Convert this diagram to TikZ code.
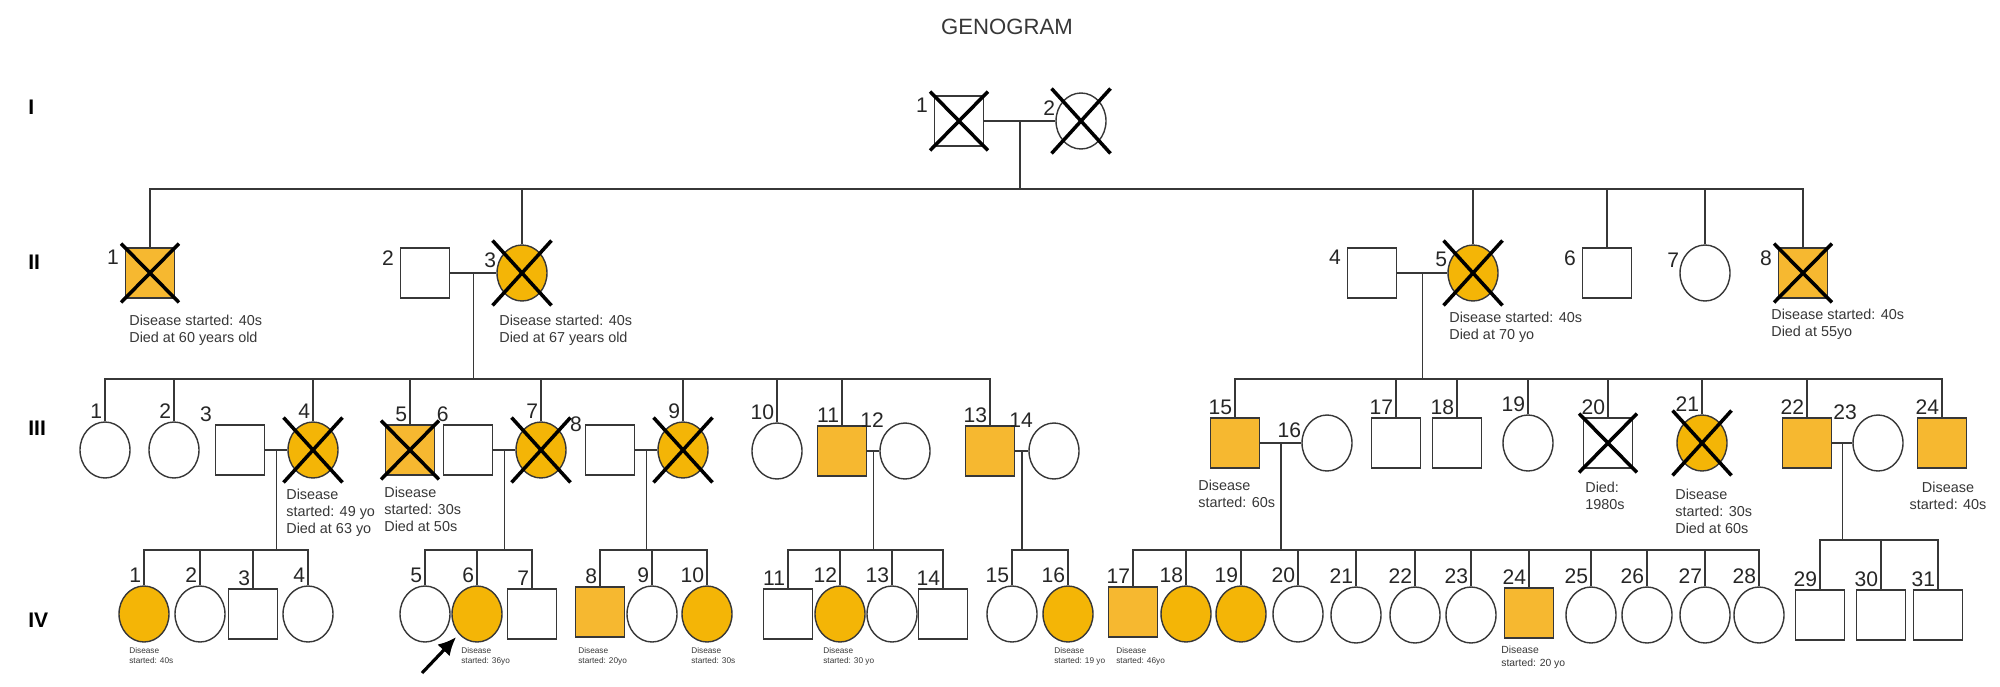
\documentclass[tikz,border=0pt]{standalone}
\usepackage{fontspec}
\setmainfont{Liberation Sans}
\usetikzlibrary{shapes.geometric,shapes.misc,fit,arrows.meta}

\definecolor{sickF}{RGB}{244,181,6}
\definecolor{sickM}{RGB}{246,184,48}
\definecolor{ink}{RGB}{55,55,55}

\newcommand{\sibline}[3]{\draw[link] (#2.north) -- (#2.north |- #1) -- (#3.north |- #1) -- (#3.north);}

\tikzset{
  link/.style={draw=ink, line width=0.85pt},
  male/.style={rectangle, draw=ink, line width=0.8pt, fill=white, minimum width=9.8mm, minimum height=10mm, inner sep=0pt},
  female/.style={ellipse, draw=ink, line width=0.8pt, fill=white, minimum width=10mm, minimum height=11.2mm, inner sep=0pt},
  msick/.style={male, fill=sickM},
  fsick/.style={female, fill=sickF},
  xmark/.style={cross out, draw=black, line width=2pt, inner sep=0.4mm},
  num/.style={font=\fontsize{12}{14}\selectfont, text=black!85, inner sep=1.5pt},
  lab/.style={label={[num, anchor=south east]north:#1}},
  labc/.style={label={[num, anchor=south east]north west:#1}},
  labw/.style={label={[num, anchor=north east, xshift=-0.6mm]north west:#1}},
  labe/.style={label={[num, anchor=east]150:#1}},
  note/.style={font=\fontsize{8.2}{9.5}\selectfont, text=ink, align=left, inner sep=0pt, anchor=north west},
  tinynote/.style={font=\fontsize{4.7}{5.7}\selectfont, text=ink, align=left, inner sep=0pt, anchor=north west},
  genlbl/.style={font=\bfseries\fontsize{12}{14}\selectfont, anchor=west, inner sep=0pt}
}

\begin{document}
\begin{tikzpicture}[x=0.2mm, y=-0.2mm]
  \useasboundingbox (0,0) rectangle (2000,686);

  % Title and generation labels
  \node[font=\fontsize{12.6}{15}\selectfont, text=ink] (title) at (1007,27) {GENOGRAM};
  \node[genlbl] (g1) at (28,107) {I};
  \node[genlbl] (g2) at (28,262) {II};
  \node[genlbl] (g3) at (28,428) {III};
  \node[genlbl] (g4) at (28,620) {IV};

  % Sibship levels
  \coordinate (s2) at (0,189);
  \coordinate (s3) at (0,379);
  \coordinate (s4) at (0,550);
  \coordinate (s4b) at (0,540);

  % Generation I
  \node[male, labw=1] (i1) at (959,121) {};
  \node[female, labe=2] (i2) at (1081,121) {};
  \draw[link] (i1) -- coordinate (ci) (i2);

  % Generation II
  \node[msick, labw=1] (ii1) at (150,273) {};
  \node[male, labw=2] (ii2) at (425,273) {};
  \node[fsick, labe=3] (ii3) at (522,273) {};
  \node[male, labw=4] (ii4) at (1372,273) {};
  \node[fsick, labe=5] (ii5) at (1473,273) {};
  \node[male, labw=6] (ii6) at (1607,273) {};
  \node[female, labe=7] (ii7) at (1705,273) {};
  \node[msick, labw=8] (ii8) at (1803,273) {};
  \draw[link] (ci) -- (ci |- s2);
  \sibline{s2}{ii1}{ii8}
  \foreach \c in {ii3,ii5,ii6,ii7} \draw[link] (\c.north) -- (\c.north |- s2);
  \draw[link] (ii2) -- coordinate (cii) (ii3);
  \draw[link] (ii4) -- coordinate (ciir) (ii5);

  \node[note] (t-ii1) at (129,315) {Disease started: 40s\\Died at 60 years old};
  \node[note] (t-ii3) at (499,315) {Disease started: 40s\\Died at 67 years old};
  \node[note] (t-ii5) at (1449,312) {Disease started: 40s\\Died at 70 yo};
  \node[note] (t-ii8) at (1771,309) {Disease started: 40s\\Died at 55yo};

  % Generation III, left family
  \node[female, lab=1] (iii1) at (105,450) {};
  \node[female, lab=2] (iii2) at (174,450) {};
  \node[male, labc=3] (iii3) at (240,450) {};
  \node[fsick, lab=4] (iii4) at (313,450) {};
  \node[msick, lab=5] (iii5) at (410,450) {};
  \node[male, label={[num, anchor=south]north west:6}] (iii6) at (468,450) {};
  \node[fsick, lab=7] (iii7) at (541,450) {};
  \node[male, label={[num, anchor=east]north west:8}] (iii8) at (610,450) {};
  \node[fsick, lab=9] (iii9) at (683,450) {};
  \node[female, lab=10] (iii10) at (777,451) {};
  \node[msick, lab=11] (iii11) at (842,451) {};
  \node[female, labc=12] (iii12) at (905,451) {};
  \node[msick, lab=13] (iii13) at (990,451) {};
  \node[female, labc=14] (iii14) at (1054,451) {};
  \draw[link] (cii) -- (cii |- s3);
  \sibline{s3}{iii1}{iii13}
  \foreach \c in {iii2,iii4,iii5,iii7,iii9,iii10,iii11} \draw[link] (\c.north) -- (\c.north |- s3);

  % Generation III, right family
  \node[msick, lab=15] (iii15) at (1235,443) {};
  \node[female, labe=16] (iii16) at (1327,443) {};
  \node[male, lab=17] (iii17) at (1396,443) {};
  \node[male, lab=18] (iii18) at (1457,443) {};
  \node[female, lab=19] (iii19) at (1528,443) {};
  \node[male, lab=20] (iii20) at (1608,443) {};
  \node[fsick, lab=21] (iii21) at (1702,443) {};
  \node[msick, lab=22] (iii22) at (1807,443) {};
  \node[female, labc=23] (iii23) at (1878,443) {};
  \node[msick, lab=24] (iii24) at (1942,443) {};
  \draw[link] (ciir) -- (ciir |- s3);
  \sibline{s3}{iii15}{iii24}
  \foreach \c in {iii17,iii18,iii19,iii20,iii21,iii22} \draw[link] (\c.north) -- (\c.north |- s3);

  \node[note] (t-iii4) at (286,489) {Disease\\started: 49 yo\\Died at 63 yo};
  \node[note] (t-iii5) at (384,487) {Disease\\started: 30s\\Died at 50s};
  \node[note] (t-iii15) at (1198,480) {Disease\\started: 60s};
  \node[note] (t-iii20) at (1585,482) {Died:\\1980s};
  \node[note] (t-iii21) at (1675,489) {Disease\\started: 30s\\Died at 60s};
  \node[note, align=center, anchor=north] (t-iii24) at (1948,482) {Disease\\started: 40s};

  % Couples of generation III
  \draw[link] (iii3) -- coordinate (c34) (iii4);
  \draw[link] (iii6) -- coordinate (c67) (iii7);
  \draw[link] (iii8) -- coordinate (c89) (iii9);
  \draw[link] (iii11) -- coordinate (c1112) (iii12);
  \draw[link] (iii13) -- coordinate (c1314) (iii14);
  \draw[link] (iii15) -- coordinate (c1516) (iii16);
  \draw[link] (iii22) -- coordinate (c2223) (iii23);

  % Generation IV
  \node[fsick, lab=1] (iv1) at (144,614) {};
  \node[female, lab=2] (iv2) at (200,614) {};
  \node[male, lab=3] (iv3) at (253,614) {};
  \node[female, lab=4] (iv4) at (308,614) {};
  \node[female, lab=5] (iv5) at (425,614) {};
  \node[fsick, lab=6] (iv6) at (477,614) {};
  \node[male, lab=7] (iv7) at (532,614) {};
  \node[msick, lab=8] (iv8) at (600,612) {};
  \node[female, lab=9] (iv9) at (652,614) {};
  \node[fsick, lab=10] (iv10) at (707,614) {};
  \node[male, lab=11] (iv11) at (788,614) {};
  \node[fsick, lab=12] (iv12) at (840,614) {};
  \node[female, lab=13] (iv13) at (892,614) {};
  \node[male, lab=14] (iv14) at (943,614) {};
  \node[female, lab=15] (iv15) at (1012,614) {};
  \node[fsick, lab=16] (iv16) at (1068,614) {};
  \node[msick, lab=17] (iv17) at (1133,612) {};
  \node[fsick, lab=18] (iv18) at (1186,614) {};
  \node[fsick, lab=19] (iv19) at (1241,614) {};
  \node[female, lab=20] (iv20) at (1298,614) {};
  \node[female, lab=21] (iv21) at (1356,615) {};
  \node[female, lab=22] (iv22) at (1415,615) {};
  \node[female, lab=23] (iv23) at (1471,615) {};
  \node[msick, lab=24] (iv24) at (1529,613) {};
  \node[female, lab=25] (iv25) at (1591,615) {};
  \node[female, lab=26] (iv26) at (1647,615) {};
  \node[female, lab=27] (iv27) at (1705,615) {};
  \node[female, lab=28] (iv28) at (1759,615) {};
  \node[male, lab=29] (iv29) at (1820,615) {};
  \node[male, lab=30] (iv30) at (1881,615) {};
  \node[male, lab=31] (iv31) at (1938,615) {};

  % Sibships of generation IV
  \draw[link] (c34) -- (c34 |- s4);
  \sibline{s4}{iv1}{iv4}
  \foreach \c in {iv2,iv3} \draw[link] (\c.north) -- (\c.north |- s4);
  \draw[link] (c67) -- (c67 |- s4);
  \sibline{s4}{iv5}{iv7}
  \draw[link] (iv6.north) -- (iv6.north |- s4);
  \draw[link] (c89) -- (c89 |- s4);
  \sibline{s4}{iv8}{iv10}
  \draw[link] (iv9.north) -- (iv9.north |- s4);
  \draw[link] (c1112) -- (c1112 |- s4);
  \sibline{s4}{iv11}{iv14}
  \foreach \c in {iv12,iv13} \draw[link] (\c.north) -- (\c.north |- s4);
  \draw[link] (c1314) -- (c1314 |- s4);
  \sibline{s4}{iv15}{iv16}
  \draw[link] (c1516) -- (c1516 |- s4);
  \sibline{s4}{iv17}{iv28}
  \foreach \c in {iv18,iv19,iv20,iv21,iv22,iv23,iv24,iv25,iv26,iv27} \draw[link] (\c.north) -- (\c.north |- s4);
  \draw[link] (c2223) -- (c2223 |- s4b);
  \sibline{s4b}{iv29}{iv31}
  \draw[link] (iv30.north) -- (iv30.north |- s4b);

  \node[tinynote] (t-iv1) at (129,647) {Disease\\started: 40s};
  \node[tinynote] (t-iv6) at (461,647) {Disease\\started: 36yo};
  \node[tinynote] (t-iv8) at (578,647) {Disease\\started: 20yo};
  \node[tinynote] (t-iv10) at (691,647) {Disease\\started: 30s};
  \node[tinynote] (t-iv12) at (823,647) {Disease\\started: 30 yo};
  \node[tinynote] (t-iv16) at (1054,647) {Disease\\started: 19 yo};
  \node[tinynote] (t-iv17) at (1116,647) {Disease\\started: 46yo};
  \node[tinynote, font=\fontsize{5.9}{6.9}\selectfont] (t-iv24) at (1501,646) {Disease\\started: 20 yo};

  % Deceased
  \foreach \p in {i1,i2,ii1,ii3,ii5,ii8,iii4,iii5,iii7,iii9,iii20,iii21}
    \node[xmark, fit=(\p)] (x\p) {};

  % Proband
  \coordinate (ptail) at (422,673);
  \draw[line width=1.8pt, -{Latex[length=3.6mm, width=3.4mm]}, shorten >=0.8mm] (ptail) -- (iv6.south west);
\end{tikzpicture}
\end{document}
